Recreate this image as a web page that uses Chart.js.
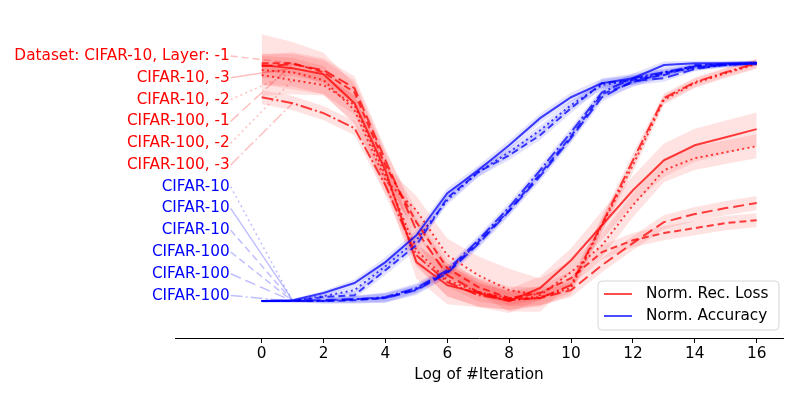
<!DOCTYPE html>
<html>
<head>
<meta charset="utf-8">
<script src="https://cdn.jsdelivr.net/npm/chart.js@4.4.1/dist/chart.umd.min.js"></script>
<style>body{margin:0;background:#fff}</style>
</head>
<body>
<canvas id="myChart" width="800" height="400"></canvas>
<script>
// x positions (log of iteration) and ticks
const iters = [0,1,2,3,4,5,6,7,8,9,10,11,12,13,14,15,16];
const xTicks = [0,2,4,6,8,10,12,14,16];

// normalized reconstruction loss (red)
const lossC10L1 = [1.0,1.0,0.962,0.878,0.571,0.332,0.139,0.059,0.013,0.034,0.097,0.206,0.256,0.286,0.307,0.328,0.340];
const lossC10L3 = [0.992,0.979,0.954,0.832,0.550,0.164,0.067,0.034,0.0,0.055,0.172,0.319,0.466,0.592,0.655,0.689,0.723];
const lossC10L2 = [0.971,0.962,0.929,0.803,0.508,0.382,0.193,0.109,0.046,0.025,0.122,0.235,0.403,0.550,0.601,0.626,0.651];
const lossC100L1 = [0.987,0.996,0.971,0.895,0.592,0.298,0.109,0.038,0.008,0.013,0.046,0.151,0.244,0.332,0.366,0.391,0.412];
const lossC100L2 = [0.950,0.929,0.908,0.824,0.529,0.214,0.088,0.038,0.013,0.017,0.055,0.319,0.571,0.845,0.916,0.958,0.996];
const lossC100L3 = [0.857,0.832,0.790,0.727,0.487,0.193,0.080,0.025,0.004,0.013,0.067,0.324,0.592,0.853,0.920,0.962,1.0];
// std of loss runs
const lossC10L1Std = [0.04,0.04,0.05,0.05,0.06,0.05,0.04,0.03,0.03,0.03,0.03,0.03,0.03,0.03,0.03,0.03,0.03];
const lossC10L3Std = [0.13,0.11,0.09,0.08,0.07,0.07,0.08,0.06,0.05,0.05,0.05,0.06,0.06,0.07,0.07,0.07,0.07];
const lossC10L2Std = [0.06,0.06,0.06,0.06,0.06,0.06,0.07,0.08,0.09,0.07,0.05,0.05,0.05,0.05,0.05,0.05,0.05];
const lossC100L1Std = [0.05,0.05,0.05,0.05,0.05,0.05,0.05,0.04,0.03,0.03,0.03,0.03,0.03,0.03,0.03,0.03,0.03];
const lossC100L2Std = [0.04,0.04,0.04,0.04,0.05,0.06,0.07,0.06,0.05,0.04,0.03,0.03,0.03,0.02,0.02,0.02,0.02];
const lossC100L3Std = [0.03,0.03,0.03,0.03,0.04,0.05,0.06,0.05,0.04,0.03,0.03,0.03,0.03,0.02,0.02,0.02,0.02];

// normalized accuracy (blue)
const accC10a = [0,0,0.021,0.046,0.147,0.256,0.424,0.542,0.626,0.718,0.824,0.908,0.929,0.962,0.979,0.992,1.0];
const accC10b = [0,0.004,0.034,0.076,0.164,0.277,0.454,0.550,0.655,0.769,0.857,0.916,0.937,0.992,1.0,1.0,1.0];
const accC10c = [0,0,0.017,0.025,0.130,0.235,0.433,0.542,0.613,0.697,0.811,0.916,0.929,0.950,0.992,0.996,1.0];
const accC100a = [0,0,0,0.004,0.013,0.050,0.122,0.248,0.382,0.534,0.693,0.870,0.920,0.958,0.983,0.992,1.0];
const accC100b = [0,0,0.004,0.008,0.013,0.046,0.118,0.240,0.378,0.525,0.685,0.857,0.925,0.937,0.975,0.996,1.0];
const accC100c = [0,0,0,0.008,0.017,0.055,0.130,0.256,0.395,0.550,0.710,0.878,0.937,0.962,0.987,0.996,1.0];
const accStd = [0.005,0.005,0.01,0.015,0.02,0.02,0.02,0.02,0.02,0.02,0.02,0.02,0.02,0.015,0.01,0.01,0.01];

const lossNames = ['Dataset: CIFAR-10, Layer: -1','CIFAR-10, -3','CIFAR-10, -2','CIFAR-100, -1','CIFAR-100, -2','CIFAR-100, -3'];
const accNames = ['CIFAR-10','CIFAR-10','CIFAR-10','CIFAR-100','CIFAR-100','CIFAR-100'];
const legendNames = ['Norm. Rec. Loss','Norm. Accuracy'];

const DASH = [7,4], LONG = [11,5], DOT = [2,3.3], DASHDOT = [12,3,2,3], SOLID = [];
const FONT = '15.3px "DejaVu Sans"';

const series = [
  {name: lossNames[0], vals: lossC10L1, std: lossC10L1Std, dash: DASH, red: true},
  {name: lossNames[1], vals: lossC10L3, std: lossC10L3Std, dash: SOLID, red: true},
  {name: lossNames[2], vals: lossC10L2, std: lossC10L2Std, dash: DOT, red: true},
  {name: lossNames[3], vals: lossC100L1, std: lossC100L1Std, dash: LONG, red: true},
  {name: lossNames[4], vals: lossC100L2, std: lossC100L2Std, dash: DOT, red: true},
  {name: lossNames[5], vals: lossC100L3, std: lossC100L3Std, dash: DASHDOT, red: true},
  {name: accNames[0], vals: accC10a, std: accStd, dash: DOT, red: false},
  {name: accNames[1], vals: accC10b, std: accStd, dash: SOLID, red: false},
  {name: accNames[2], vals: accC10c, std: accStd, dash: DASH, red: false},
  {name: accNames[3], vals: accC100a, std: accStd, dash: DASH, red: false},
  {name: accNames[4], vals: accC100b, std: accStd, dash: LONG, red: false},
  {name: accNames[5], vals: accC100c, std: accStd, dash: DASHDOT, red: false}
];

const labelX = -1;
const labelY = series.map((s, i) => 1.03 - i * 0.0915);

const datasets = [];
series.forEach((s, i) => {
  const rgb = s.red ? '255,0,0' : '0,0,255';
  // line
  datasets.push({
    data: iters.map((x, j) => ({x: x, y: s.vals[j]})),
    borderColor: 'rgba(' + rgb + ',0.75)',
    borderWidth: 2,
    borderDash: s.dash,
    pointRadius: 0,
    fill: false,
    tension: 0,
    order: s.red ? 1 : 0
  });
  // band upper then lower
  datasets.push({
    data: iters.map((x, j) => ({x: x, y: s.vals[j] + s.std[j]})),
    borderWidth: 0,
    borderColor: 'rgba(0,0,0,0)',
    backgroundColor: 'rgba(' + rgb + ',0.11)',
    pointRadius: 0,
    fill: '+1',
    order: 2
  });
  datasets.push({
    data: iters.map((x, j) => ({x: x, y: s.vals[j] - s.std[j]})),
    borderWidth: 0,
    borderColor: 'rgba(0,0,0,0)',
    pointRadius: 0,
    fill: false,
    order: 2
  });
  // connector from the text label to the curve
  datasets.push({
    data: [{x: labelX, y: labelY[i]}, {x: iters[1], y: s.vals[1]}],
    borderColor: 'rgba(' + rgb + ',0.25)',
    borderWidth: 1.5,
    borderDash: s.dash,
    pointRadius: 0,
    fill: false,
    order: 3
  });
});

const textLabels = {
  id: 'textLabels',
  afterDraw(chart) {
    const ctx = chart.ctx;
    const xs = chart.scales.x, ys = chart.scales.y;
    ctx.save();
    ctx.font = FONT;
    ctx.textAlign = 'right';
    ctx.textBaseline = 'middle';
    series.forEach((s, i) => {
      ctx.fillStyle = s.red ? '#ff0000' : '#0000ff';
      ctx.fillText(s.name, xs.getPixelForValue(labelX) - 1, ys.getPixelForValue(labelY[i]));
    });
    // legend box, lower right
    const area = chart.chartArea;
    const w = 181, h = 49;
    const bx = area.right - 4 - w, by = area.bottom - 8 - h;
    ctx.beginPath();
    ctx.roundRect(bx, by, w, h, 4);
    ctx.fillStyle = 'rgba(255,255,255,0.8)';
    ctx.fill();
    ctx.strokeStyle = '#d6d6d6';
    ctx.lineWidth = 1;
    ctx.stroke();
    ctx.textAlign = 'left';
    ['rgba(255,0,0,0.7)', 'rgba(0,0,255,0.7)'].forEach((c, k) => {
      const yy = by + 13 + k * 22;
      ctx.strokeStyle = c;
      ctx.lineWidth = 2;
      ctx.beginPath();
      ctx.moveTo(bx + 6, yy);
      ctx.lineTo(bx + 34, yy);
      ctx.stroke();
      ctx.fillStyle = '#000';
      ctx.fillText(legendNames[k], bx + 48, yy);
    });
    ctx.restore();
  }
};

const ctx = document.getElementById('myChart').getContext('2d');
const myChart = new Chart(ctx, {
  type: 'line',
  data: {datasets: datasets},
  options: {
    responsive: false,
    animation: false,
    layout: {padding: {left: 175, right: 17, top: 18, bottom: 12}},
    plugins: {legend: {display: false}, tooltip: {enabled: false}},
    scales: {
      x: {
        type: 'linear',
        min: -2.8,
        max: 16.85,
        afterBuildTicks: (scale) => { scale.ticks = xTicks.map(v => ({value: v})); },
        afterFit: (scale) => { scale.height = 50; },
        ticks: {color: '#000', font: {family: 'DejaVu Sans', size: 15.3}, padding: 2, maxRotation: 0},
        grid: {display: true, drawOnChartArea: false, drawTicks: true, tickLength: 5, color: '#000'},
        border: {display: true, color: '#000', width: 1},
        title: {display: true, text: 'Log of #Iteration', color: '#000', font: {family: 'DejaVu Sans', size: 15.3}, padding: {top: 2}}
      },
      y: {
        type: 'linear',
        display: false,
        min: -0.155,
        max: 1.19
      }
    }
  },
  plugins: [textLabels]
});
</script>
</body>
</html>
